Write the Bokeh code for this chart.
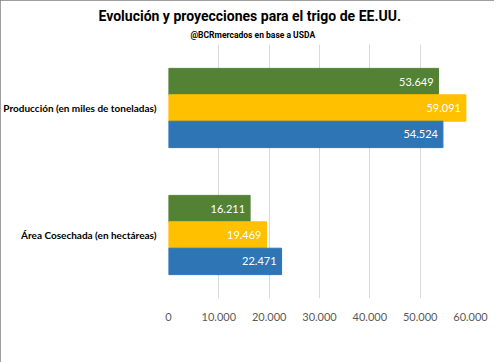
from bokeh.plotting import figure
from bokeh.models import (ColumnDataSource, Title, Legend, LegendItem, FactorRange,
                          SingleIntervalTicker, CustomJSTickFormatter)
from bokeh.core.properties import value
from bokeh.transform import dodge
from bokeh.embed import file_html
from bokeh.resources import INLINE

# ---- data ----
categories = ["Área Cosechada (en hectáreas)", "Producción (en miles de toneladas)"]
series_names = ["Promedio próximos 10 años", "Promedio últimos 10 años", "Promedio Histórico"]
proximos = [16211, 53649]
ultimos = [19469, 59091]
historico = [22471, 54524]
x_ticks = [0, 10000, 20000, 30000, 40000, 50000, 60000]
x_tick_labels = ["0", "10.000", "20.000", "30.000", "40.000", "50.000", "60.000"]

colors = ["#548235", "#FFC000", "#2E75B6"]
offsets = [0.208, 0.0, -0.208]
series = [proximos, ultimos, historico]

TFONT = "Roboto"
FONT = "Lato"

p = figure(frame_width=302, frame_height=254, output_backend="svg", toolbar_location=None,
           x_range=(0, 60000), y_range=FactorRange(factors=categories),
           min_border_left=158, min_border_right=24, min_border_top=44, min_border_bottom=48)
p.styles = {"outline": "2px solid #7f7f7f", "outline-offset": "-2px"}

sub = Title(text="@BCRmercados en base a USDA", align="left", offset=22,
            text_font=TFONT, text_font_size="8.5px", text_font_style="bold",
            text_color="#000000", standoff=9)
p.add_layout(sub, "above")
main = Title(text="Evolución y proyecciones para el trigo de EE.UU.", align="left", offset=-70,
             text_font=TFONT, text_font_size="14px", text_font_style="bold",
             text_color="#000000", standoff=0)
p.add_layout(main, "above")

data = dict(cat=categories)
for k, vals in enumerate(series):
    data[f"v{k}"] = vals
    data[f"l{k}"] = [f"{v:,}".replace(",", ".") for v in vals]
src = ColumnDataSource(data)

items = []
for k, (name, col, off) in enumerate(zip(series_names, colors, offsets)):
    r = p.hbar(y=dodge("cat", off, range=p.y_range), right=f"v{k}", left=0, height=0.208,
               source=src, fill_color=col, line_color=col, line_width=1)
    p.text(x=f"v{k}", y=dodge("cat", off, range=p.y_range), text=f"l{k}", source=src,
           x_offset=-5, text_align="right", text_baseline="middle", text_color="white",
           text_font=value(FONT), text_font_size="11px")
    items.append(LegendItem(label=name, renderers=[r]))

legend = Legend(items=items, orientation="horizontal", location=(-115, 0),
                label_text_font=FONT, label_text_font_size="11px", label_text_color="#404040",
                glyph_width=7, glyph_height=7, label_standoff=3, spacing=18,
                border_line_color=None, background_fill_alpha=0, padding=2, margin=4)
p.add_layout(legend, "below")

p.xaxis.ticker = SingleIntervalTicker(interval=10000, num_minor_ticks=0)
p.xaxis.formatter = CustomJSTickFormatter(
    args=dict(tick_vals=x_ticks, tick_labs=x_tick_labels),
    code="const i = tick_vals.indexOf(tick); return i >= 0 ? tick_labs[i] : '';")
p.xaxis.axis_line_color = None
p.xaxis.major_tick_line_color = None
p.xaxis.minor_tick_line_color = None
p.xaxis.major_label_text_font = FONT
p.xaxis.major_label_text_font_size = "11px"
p.xaxis.major_label_text_color = "#595959"
p.xaxis.major_label_standoff = 8

p.yaxis.axis_line_color = None
p.yaxis.major_tick_line_color = None
p.yaxis.minor_tick_line_color = None
p.yaxis.major_label_text_font = FONT
p.yaxis.major_label_text_font_size = "10px"
p.yaxis.major_label_text_font_style = "bold"
p.yaxis.major_label_text_color = "#000000"
p.yaxis.major_label_standoff = 6

p.ygrid.grid_line_color = None
p.xgrid.grid_line_color = "#D9D9D9"
p.outline_line_color = None

open("out.html", "w").write(file_html(p, INLINE))
